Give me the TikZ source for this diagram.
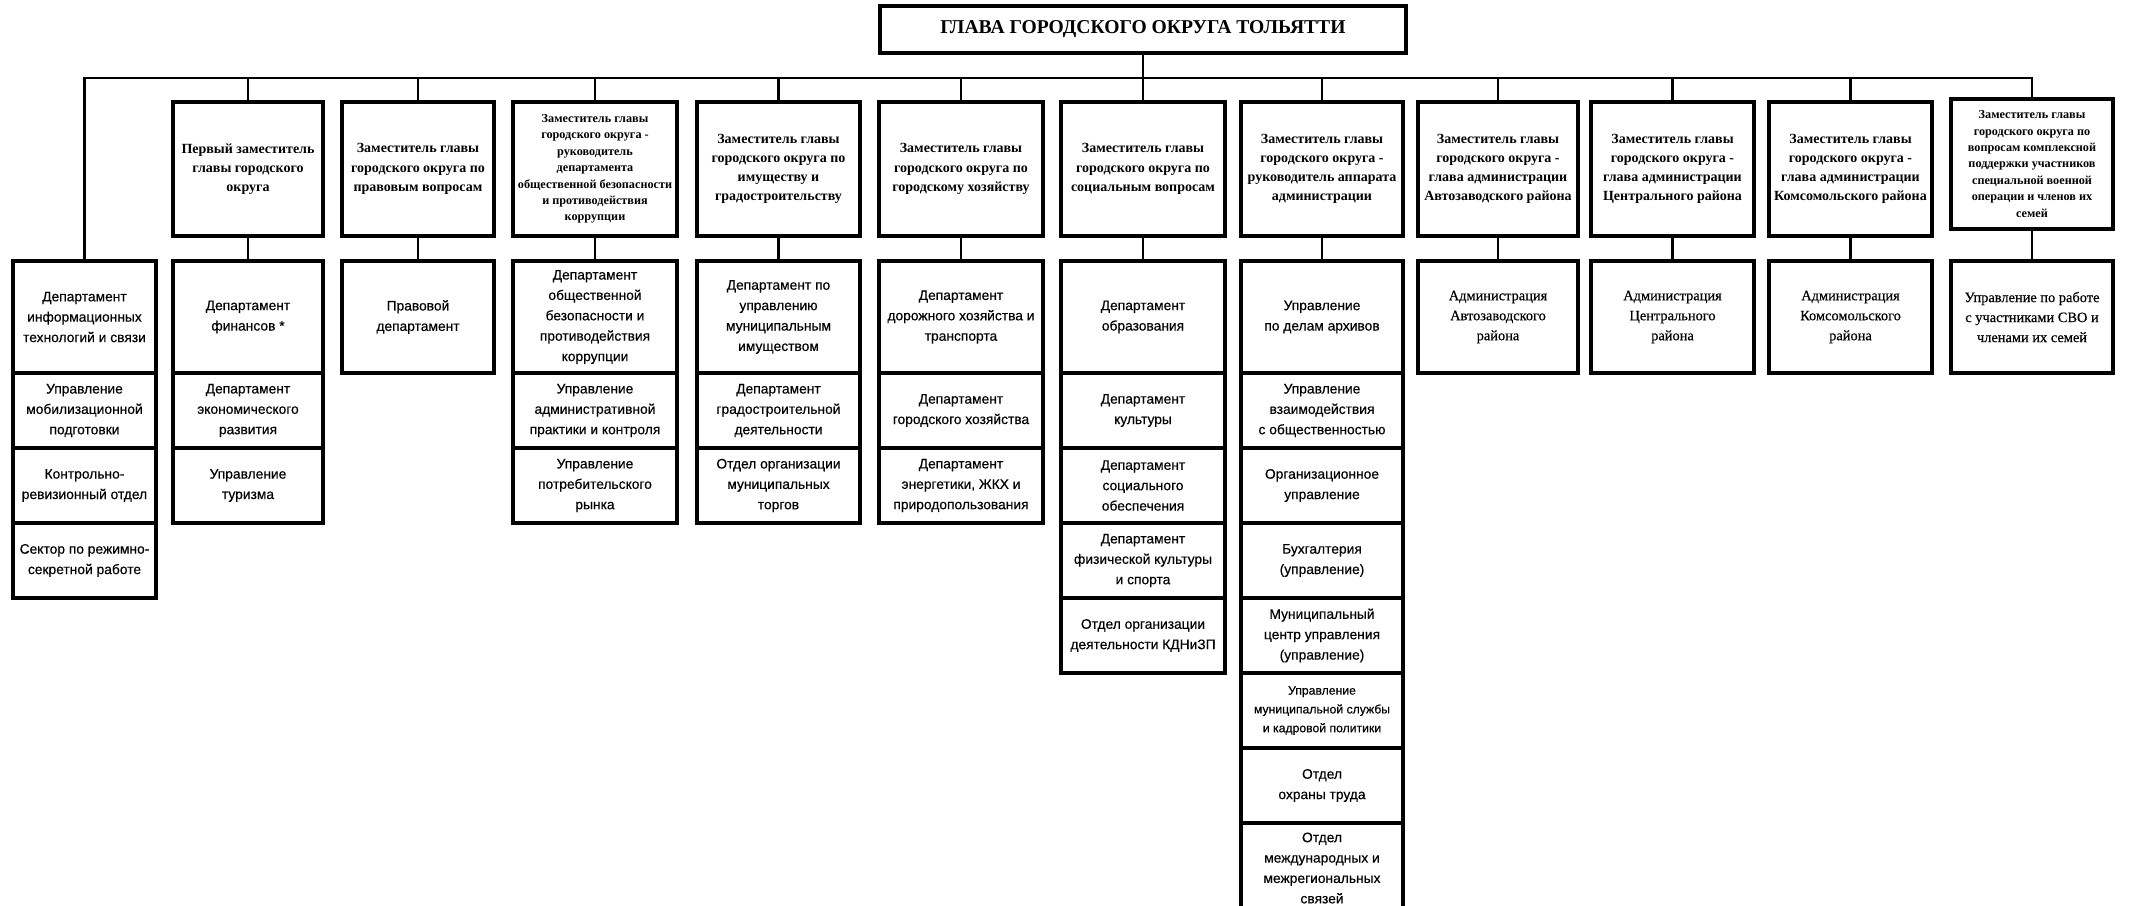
\documentclass[tikz,border=0pt]{standalone}
\usepackage{fontspec}
\setmainfont{Liberation Serif}
\newfontfamily\lowsans[UprightFeatures={FakeBold=0.35}]{Liberation Sans}
\newfontfamily\distserif[UprightFeatures={FakeBold=0.4}]{Liberation Serif}
\newcommand{\orgbox}[7]{\node[#1, minimum width={(#5-#3)*0.5pt}, minimum height={(#6-#4)*0.5pt}] (#2) at ({(#3+#5)/2},{(#4+#6)/2}) {#7};}
\tikzset{
  boxbase/.style={draw=black, line width=1.6pt, fill=white, inner sep=1pt, align=center},
  headbox/.style={boxbase, font=\bfseries\fontsize{9.8}{11}\selectfont},
  depbox/.style={boxbase, font=\bfseries\fontsize{7}{9.6}\selectfont},
  depsmall/.style={boxbase, font=\bfseries\fontsize{6.1}{8.2}\selectfont},
  unitbox/.style={boxbase, font=\lowsans\fontsize{6.9}{10.2}\selectfont},
  unitsmall/.style={boxbase, font=\lowsans\fontsize{6.1}{9.4}\selectfont},
  distbox/.style={boxbase, font=\distserif\fontsize{7.2}{10}\selectfont},
  link/.style={draw=black, line width=1.1pt}
}
\begin{document}
\begin{tikzpicture}[x=0.5pt,y=-0.5pt]
\useasboundingbox[fill=white] (0,0) rectangle (2130,905);
% head
\orgbox{headbox}{head}{880}{6}{1406}{53}{ГЛАВА ГОРОДСКОГО ОКРУГА ТОЛЬЯТТИ}
% deputies
\orgbox{depbox}{d2}{173}{102}{323}{236}{Первый заместитель\\главы городского\\округа}
\orgbox{depbox}{d3}{342}{102}{494}{236}{Заместитель главы\\городского округа по\\правовым вопросам}
\orgbox{depsmall}{d4}{513}{102}{677}{236}{Заместитель главы\\городского округа -\\руководитель\\департамента\\общественной безопасности\\и противодействия\\коррупции}
\orgbox{depbox}{d5}{697}{102}{860}{236}{Заместитель главы\\городского округа по\\имуществу и\\градостроительству}
\orgbox{depbox}{d6}{879}{102}{1043}{236}{Заместитель главы\\городского округа по\\городскому хозяйству}
\orgbox{depbox}{d7}{1061}{102}{1225}{236}{Заместитель главы\\городского округа по\\социальным вопросам}
\orgbox{depbox}{d8}{1241}{102}{1403}{236}{Заместитель главы\\городского округа -\\руководитель аппарата\\администрации}
\orgbox{depbox}{d9}{1418}{102}{1578}{236}{Заместитель главы\\городского округа -\\глава администрации\\Автозаводского района}
\orgbox{depbox}{d10}{1591}{102}{1754}{236}{Заместитель главы\\городского округа -\\глава администрации\\Центрального района}
\orgbox{depbox}{d11}{1769}{102}{1932}{236}{Заместитель главы\\городского округа -\\глава администрации\\Комсомольского района}
\orgbox{depsmall}{d12}{1951}{99}{2113}{229}{Заместитель главы\\городского округа по\\вопросам комплексной\\поддержки участников\\специальной военной\\операции и членов их\\семей}
% column 1
\orgbox{unitbox}{c1a}{13}{261}{156}{373}{Департамент\\информационных\\технологий и связи}
\orgbox{unitbox}{c1b}{13}{373}{156}{448}{Управление\\мобилизационной\\подготовки}
\orgbox{unitbox}{c1c}{13}{448}{156}{523}{Контрольно-\\ревизионный отдел}
\orgbox{unitbox}{c1d}{13}{523}{156}{598}{Сектор по режимно-\\секретной работе}
% column 2
\orgbox{unitbox}{c2a}{173}{261}{323}{373}{Департамент\\финансов *}
\orgbox{unitbox}{c2b}{173}{373}{323}{448}{Департамент\\экономического\\развития}
\orgbox{unitbox}{c2c}{173}{448}{323}{523}{Управление\\туризма}
% column 3
\orgbox{unitbox}{c3a}{342}{261}{494}{373}{Правовой\\департамент}
% column 4
\orgbox{unitbox}{c4a}{513}{261}{677}{373}{Департамент\\общественной\\безопасности и\\противодействия\\коррупции}
\orgbox{unitbox}{c4b}{513}{373}{677}{448}{Управление\\административной\\практики и контроля}
\orgbox{unitbox}{c4c}{513}{448}{677}{523}{Управление\\потребительского\\рынка}
% column 5
\orgbox{unitbox}{c5a}{697}{261}{860}{373}{Департамент по\\управлению\\муниципальным\\имуществом}
\orgbox{unitbox}{c5b}{697}{373}{860}{448}{Департамент\\градостроительной\\деятельности}
\orgbox{unitbox}{c5c}{697}{448}{860}{523}{Отдел организации\\муниципальных\\торгов}
% column 6
\orgbox{unitbox}{c6a}{879}{261}{1043}{373}{Департамент\\дорожного хозяйства и\\транспорта}
\orgbox{unitbox}{c6b}{879}{373}{1043}{448}{Департамент\\городского хозяйства}
\orgbox{unitbox}{c6c}{879}{448}{1043}{523}{Департамент\\энергетики, ЖКХ и\\природопользования}
% column 7
\orgbox{unitbox}{c7a}{1061}{261}{1225}{373}{Департамент\\образования}
\orgbox{unitbox}{c7b}{1061}{373}{1225}{448}{Департамент\\культуры}
\orgbox{unitbox}{c7c}{1061}{448}{1225}{523}{Департамент\\социального\\обеспечения}
\orgbox{unitbox}{c7d}{1061}{523}{1225}{598}{Департамент\\физической культуры\\и спорта}
\orgbox{unitbox}{c7e}{1061}{598}{1225}{673}{Отдел организации\\деятельности КДНиЗП}
% column 8
\orgbox{unitbox}{c8a}{1241}{261}{1403}{373}{Управление\\по делам архивов}
\orgbox{unitbox}{c8b}{1241}{373}{1403}{448}{Управление\\взаимодействия\\с общественностью}
\orgbox{unitbox}{c8c}{1241}{448}{1403}{523}{Организационное\\управление}
\orgbox{unitbox}{c8d}{1241}{523}{1403}{598}{Бухгалтерия\\(управление)}
\orgbox{unitbox}{c8e}{1241}{598}{1403}{673}{Муниципальный\\центр управления\\(управление)}
\orgbox{unitsmall}{c8f}{1241}{673}{1403}{748}{Управление\\муниципальной службы\\и кадровой политики}
\orgbox{unitbox}{c8g}{1241}{748}{1403}{823}{Отдел\\охраны труда}
\orgbox{unitbox}{c8h}{1241}{823}{1403}{913}{Отдел\\международных и\\межрегиональных\\связей}
% columns 9-12
\orgbox{distbox}{c9a}{1418}{261}{1578}{373}{Администрация\\Автозаводского\\района}
\orgbox{distbox}{c10a}{1591}{261}{1754}{373}{Администрация\\Центрального\\района}
\orgbox{distbox}{c11a}{1769}{261}{1932}{373}{Администрация\\Комсомольского\\района}
\orgbox{distbox}{c12a}{1951}{261}{2113}{373}{Управление по работе\\с участниками СВО и\\членами их семей}
% connectors
\coordinate (hl) at (0,78);
\draw[link] (c1a.north) -- (c1a.north |- hl) -- (d12.north |- hl) -- (d12.north);
\draw[link] (head.south) -- (d7.north);
\foreach \n in {2,...,11} {\draw[link] (d\n.north |- hl) -- (d\n.north);}
\foreach \n in {2,...,12} {\draw[link] (d\n.south) -- (c\n a.north);}
\end{tikzpicture}
\end{document}
